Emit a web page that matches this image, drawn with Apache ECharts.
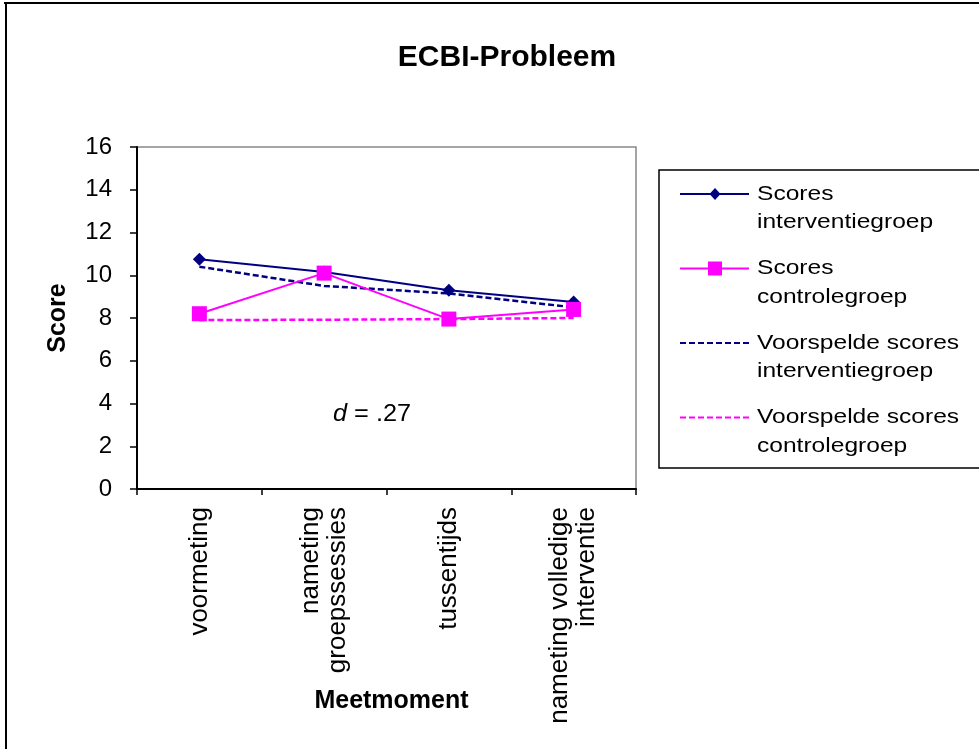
<!DOCTYPE html>
<html>
<head>
<meta charset="utf-8">
<script src="https://cdn.jsdelivr.net/npm/echarts@6/dist/echarts.min.js"></script>
<style>
html,body{margin:0;padding:0;background:#fff;}
#chart{width:979px;height:749px;}
</style>
</head>
<body>
<div id="chart"></div>
<script>
var categories = ['voormeting', 'nameting\ngroepssessies', 'tussentijds', 'nameting volledige\ninterventie'];
var scoresInterventie = [10.75, 10.15, 9.3, 8.75];
var scoresControle = [8.2, 10.1, 7.95, 8.4];
var voorspeldInterventie = [10.4, 9.5, 9.15, 8.5];
var voorspeldControle = [7.9, 7.92, 7.95, 8.0];
var yTicks = [0, 2, 4, 6, 8, 10, 12, 14, 16];
var legendNames = ['Scores\ninterventiegroep', 'Scores\ncontrolegroep', 'Voorspelde scores\ninterventiegroep', 'Voorspelde scores\ncontrolegroep'];

var NAVY = '#000080', MAG = '#FF00FF';
var FONT = '"Liberation Sans", Arial, sans-serif';

var chart = echarts.init(document.getElementById('chart'), null, {renderer: 'canvas'});

var legendItems = [
  {name: legendNames[0], color: NAVY, dash: null, symbol: 'diamond'},
  {name: legendNames[1], color: MAG, dash: null, symbol: 'square'},
  {name: legendNames[2], color: NAVY, dash: [6, 3], symbol: null},
  {name: legendNames[3], color: MAG, dash: [6, 3], symbol: null}
];
var legendGraphics = [];
legendGraphics.push({type: 'rect', shape: {x: 659, y: 170, width: 330, height: 298}, style: {fill: '#fff', stroke: '#000', lineWidth: 1.5}, z: 10});
legendItems.forEach(function (it, i) {
  var y = 194 + i * 74.5;
  legendGraphics.push({type: 'line', shape: {x1: 680, y1: y, x2: 749, y2: y}, style: {stroke: it.color, lineWidth: 2, lineDash: it.dash}, z: 11});
  if (it.symbol === 'diamond') {
    legendGraphics.push({type: 'polygon', shape: {points: [[715, y - 6], [720.5, y], [715, y + 6], [709.5, y]]}, style: {fill: it.color}, z: 12});
  } else if (it.symbol === 'square') {
    legendGraphics.push({type: 'rect', shape: {x: 708, y: y - 7, width: 14, height: 14}, style: {fill: it.color}, z: 12});
  }
  legendGraphics.push({type: 'text', x: 757, y: y - 14.5, scaleX: 1.17, style: {text: it.name, font: '21px ' + FONT, fill: '#000', lineHeight: 28.5, textVerticalAlign: 'top'}, z: 12});
});

var option = {
  backgroundColor: '#fff',
  animation: false,
  title: {
    text: 'ECBI-Probleem',
    left: 502, top: 38, textAlign: 'center',
    textStyle: {fontFamily: FONT, fontSize: 30, fontWeight: 'bold', color: '#000'}
  },
  grid: {left: 137, right: 343, top: 147, bottom: 260, containLabel: false, outerBoundsMode: 'none',
    show: true, borderColor: '#888', borderWidth: 1.5, backgroundColor: '#fff'},
  xAxis: {
    type: 'category',
    data: categories,
    boundaryGap: true,
    name: 'Meetmoment',
    nameLocation: 'middle',
    nameGap: 200,
    nameMoveOverlap: false,
    nameTextStyle: {fontFamily: FONT, fontSize: 25, fontWeight: 'bold', color: '#000', padding: [0, 0, 0, 10]},
    axisLine: {lineStyle: {color: '#000', width: 2}},
    axisTick: {show: true, length: 6, alignWithLabel: false, lineStyle: {color: '#000', width: 1.5}},
    axisLabel: {rotate: 90, margin: 18, fontFamily: FONT, fontSize: 26, color: '#000', lineHeight: 27, interval: 0},
    splitLine: {show: false}
  },
  yAxis: {
    type: 'value',
    min: 0, max: 16, interval: 2,
    name: 'Score',
    nameLocation: 'middle',
    nameGap: 66,
    nameRotate: 90,
    nameMoveOverlap: false,
    nameTextStyle: {fontFamily: FONT, fontSize: 25, fontWeight: 'bold', color: '#000'},
    axisLine: {show: true, lineStyle: {color: '#000', width: 2}},
    axisTick: {show: true, length: 7, lineStyle: {color: '#000', width: 1.5}},
    axisLabel: {margin: 25, fontFamily: FONT, fontSize: 24, color: '#000',
      formatter: function (v) { return yTicks.indexOf(v) >= 0 ? String(v) : ''; }},
    splitLine: {show: false}
  },
  series: [
    {name: legendNames[2], type: 'line', data: voorspeldInterventie, showSymbol: false, symbol: 'none',
      lineStyle: {color: NAVY, width: 2.5, type: [6, 3]}, itemStyle: {color: NAVY}, z: 2},
    {name: legendNames[3], type: 'line', data: voorspeldControle, showSymbol: false, symbol: 'none',
      lineStyle: {color: MAG, width: 2.5, type: [6, 3]}, itemStyle: {color: MAG}, z: 2},
    {name: legendNames[0], type: 'line', data: scoresInterventie, symbol: 'diamond', symbolSize: 13,
      lineStyle: {color: NAVY, width: 2}, itemStyle: {color: NAVY}, z: 3},
    {name: legendNames[1], type: 'line', data: scoresControle, symbol: 'rect', symbolSize: 15,
      lineStyle: {color: MAG, width: 2}, itemStyle: {color: MAG}, z: 4}
  ],
  graphic: [
    {type: 'line', shape: {x1: 4, y1: 3, x2: 979, y2: 3}, style: {stroke: '#000', lineWidth: 2}},
    {type: 'line', shape: {x1: 6, y1: 3, x2: 6, y2: 749}, style: {stroke: '#000', lineWidth: 2}},
    {type: 'text', x: 333, y: 403, scaleX: 1.1, style: {text: '{i|d} = .27', font: '23px ' + FONT, fill: '#000',
      rich: {i: {fontStyle: 'italic', fontSize: 23, fontFamily: FONT}}}}
  ].concat(legendGraphics)
};
chart.setOption(option);
</script>
</body>
</html>
